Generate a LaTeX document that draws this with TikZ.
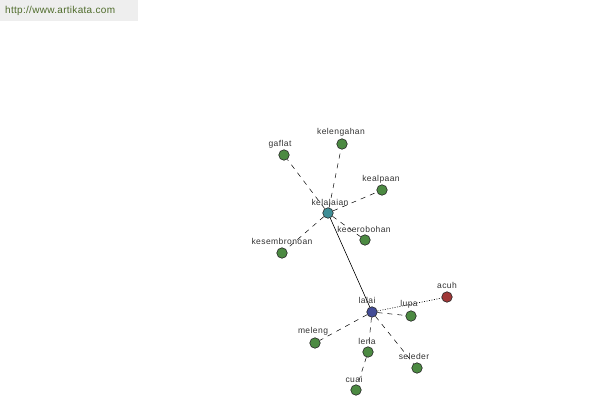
\documentclass[tikz,border=0pt]{standalone}
\usepackage{fontspec}
\setmainfont{Liberation Sans}
\definecolor{nodegreen}{HTML}{4C8A42}
\definecolor{nodeteal}{HTML}{3E8E96}
\definecolor{nodeblue}{HTML}{434C96}
\definecolor{nodered}{HTML}{A03838}
\definecolor{hdrbg}{HTML}{EEEEEE}
\definecolor{hdrtext}{HTML}{4E6B2A}
\definecolor{lbl}{HTML}{333333}
\tikzset{
  vtx/.style={circle, draw=black!85, line width=0.6pt, minimum size=10.5pt, inner sep=0pt},
  gv/.style={vtx, fill=nodegreen},
  lab/.style={font=\fontsize{8.5}{9}\selectfont\addfontfeature{LetterSpace=5}, text=lbl, inner sep=0pt},
  dshline/.style={dash pattern=on 5pt off 5pt, line width=0.5pt},
  dotline/.style={dash pattern=on 1pt off 1.5pt, line width=0.6pt},
  solidline/.style={line width=0.6pt}
}
\begin{document}
\begin{tikzpicture}[x=1pt,y=-1pt]
\useasboundingbox (0,0) rectangle (600,400);
\fill[white] (0,0) rectangle (600,400);
\fill[hdrbg] (0,0) rectangle (138,21);
\node[anchor=west, font=\fontsize{10}{11}\selectfont\addfontfeature{LetterSpace=3}, text=hdrtext, inner sep=0pt] (hdr) at (5,11) {http://www.artikata.com};

% vertices
\node[vtx, fill=nodeteal] (kelalaian) at (328,213) {};
\node[vtx, fill=nodeblue] (lalai) at (372,312) {};
\node[vtx, fill=nodered] (acuh) at (447,297) {};
\node[gv] (gaflat) at (284,155) {};
\node[gv] (kelengahan) at (342,144) {};
\node[gv] (kealpaan) at (382,190) {};
\node[gv] (kecerobohan) at (365,240) {};
\node[gv] (kesembronoan) at (282,253) {};
\node[gv] (lupa) at (411,316) {};
\node[gv] (meleng) at (315,343) {};
\node[gv] (lena) at (368,352) {};
\node[gv] (seleder) at (417,368) {};
\node[gv] (cuai) at (356,390) {};

% edges
\draw[dshline] (kelalaian) -- (gaflat);
\draw[dshline] (kelalaian) -- (kelengahan);
\draw[dshline] (kelalaian) -- (kealpaan);
\draw[dshline] (kelalaian) -- (kecerobohan);
\draw[dshline] (kelalaian) -- (kesembronoan);
\draw[solidline] (kelalaian) -- (lalai);
\draw[dotline] (lalai) -- (acuh);
\draw[dshline] (lalai) -- (lupa);
\draw[dshline] (lalai) -- (meleng);
\draw[dshline] (lalai) -- (lena);
\draw[dshline] (lalai) -- (seleder);
\draw[dshline] (lena) -- (cuai);

% labels
\node[lab] (l-gaflat) at (280,144) {gaflat};
\node[lab] (l-kelengahan) at (341,132) {kelengahan};
\node[lab] (l-kealpaan) at (381,179) {kealpaan};
\node[lab] (l-kelalaian) at (330,202) {kelalaian};
\node[lab] (l-kecerobohan) at (364,229) {kecerobohan};
\node[lab] (l-kesembronoan) at (282,241) {kesembronoan};
\node[lab] (l-lalai) at (367,300) {lalai};
\node[lab] (l-acuh) at (447,285) {acuh};
\node[lab] (l-lupa) at (409,304) {lupa};
\node[lab] (l-meleng) at (313,331) {meleng};
\node[lab] (l-lena) at (367,341) {lena};
\node[lab] (l-seleder) at (414,356) {seleder};
\node[lab] (l-cuai) at (354,379) {cuai};
\end{tikzpicture}
\end{document}
